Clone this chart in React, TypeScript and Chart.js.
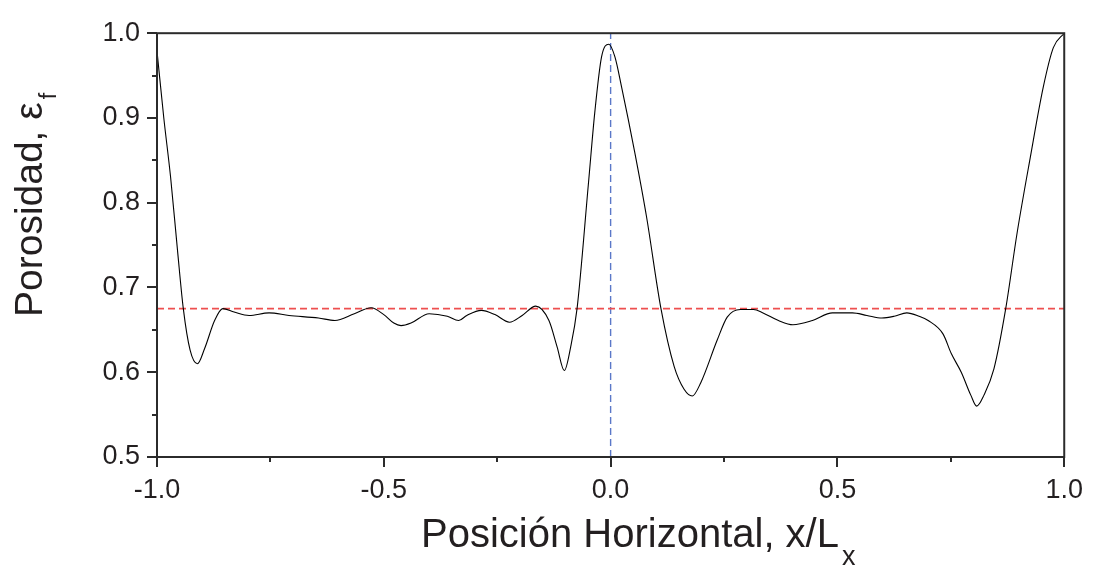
import React, { useEffect, useRef } from 'react';
import { Chart, registerables } from 'chart.js';

Chart.register(...registerables);

// Horizontal position x/Lx
const positionX = [
  -1.0, -0.985, -0.97, -0.955, -0.942, -0.927, -0.911, -0.895, -0.873, -0.855,
  -0.83, -0.797, -0.753, -0.709, -0.644, -0.608, -0.565, -0.528, -0.5, -0.478,
  -0.462, -0.44, -0.4, -0.36, -0.335, -0.317, -0.285, -0.255, -0.223, -0.195,
  -0.165, -0.136, -0.118, -0.102, -0.088, -0.074, -0.049, -0.035, -0.02, -0.004,
  0.0095, 0.024, 0.053, 0.079, 0.111, 0.14, 0.162, 0.18, 0.199, 0.235, 0.257,
  0.286, 0.315, 0.336, 0.37, 0.402, 0.445, 0.489, 0.533, 0.565, 0.598,
  0.625, 0.653, 0.68, 0.7, 0.733, 0.751, 0.773, 0.794, 0.807, 0.823,
  0.845, 0.871, 0.896, 0.925, 0.954, 0.976, 1.0,
];

// Porosity values
const porosity = [
  0.979, 0.9, 0.83, 0.745, 0.675, 0.626, 0.61, 0.628, 0.661, 0.675,
  0.671, 0.667, 0.67, 0.667, 0.664, 0.661, 0.669, 0.676, 0.668, 0.658,
  0.655, 0.658, 0.669, 0.666, 0.661, 0.667, 0.673, 0.668, 0.659, 0.667,
  0.678, 0.661, 0.63, 0.602, 0.63, 0.675, 0.822, 0.906, 0.972, 0.987,
  0.972, 0.937, 0.86, 0.784, 0.675, 0.607, 0.58, 0.572, 0.588, 0.638, 0.665,
  0.674, 0.674, 0.67, 0.661, 0.656, 0.661, 0.67, 0.67, 0.667, 0.664,
  0.666, 0.67, 0.666, 0.661, 0.645, 0.622, 0.6, 0.573, 0.56, 0.573,
  0.604, 0.675, 0.764, 0.853, 0.937, 0.983, 1.0,
];

// Reference lines
const meanPorosity = 0.675;
const centerPosition = 0.0;

// Axis ranges and labels
const xRange = [-1.0, 1.0];
const yRange = [0.5, 1.0];
const xTickLabels = ['-1.0', '-0.5', '0.0', '0.5', '1.0'];
const yTickLabels = ['0.5', '0.6', '0.7', '0.8', '0.9', '1.0'];

const xTitle = 'Posición Horizontal, x/L';
const xTitleSub = 'x';
const yTitle = 'Porosidad, ε';
const yTitleSub = 'f';

const FONT = '"Liberation Sans", Arial, Helvetica, sans-serif';
const TEXT = '#231f20';

function labelFor(value: number, labels: string[]) {
  const found = labels.find((l) => Math.abs(Number(l) - value) < 1e-6);
  return found ?? '';
}

const framePlugin = {
  id: 'originFrame',
  afterDraw(chart: any) {
    const { ctx, chartArea: a, scales } = chart;
    ctx.save();
    ctx.strokeStyle = '#2b2b2b';
    ctx.lineWidth = 2;
    ctx.strokeRect(a.left, a.top, a.right - a.left, a.bottom - a.top);

    ctx.lineWidth = 2;
    ctx.beginPath();
    scales.x.ticks.forEach((t: any) => {
      const px = Math.round(scales.x.getPixelForValue(t.value));
      const len = t.label ? 10 : 5;
      ctx.moveTo(px, a.bottom);
      ctx.lineTo(px, a.bottom + len);
    });
    scales.y.ticks.forEach((t: any) => {
      const py = Math.round(scales.y.getPixelForValue(t.value));
      const len = t.label ? 10 : 5;
      ctx.moveTo(a.left, py);
      ctx.lineTo(a.left - len, py);
    });
    ctx.stroke();

    // X title with subscript
    ctx.fillStyle = TEXT;
    ctx.textBaseline = 'alphabetic';
    ctx.textAlign = 'left';
    ctx.font = `40px ${FONT}`;
    const xw = ctx.measureText(xTitle).width;
    const xStart = a.left + 264;
    ctx.fillText(xTitle, xStart, 547);
    ctx.font = `27px ${FONT}`;
    ctx.fillText(xTitleSub, xStart + xw + 3, 565);

    // Y title with subscript (rotated)
    ctx.save();
    ctx.translate(42, 317);
    ctx.rotate(-Math.PI / 2);
    ctx.font = `39px ${FONT}`;
    const yw = ctx.measureText(yTitle).width;
    ctx.fillText(yTitle, 0, 0);
    ctx.font = `23px ${FONT}`;
    ctx.fillText(yTitleSub, yw + 3, 14);
    ctx.restore();

    ctx.restore();
  },
};

export default function App() {
  const canvasRef = useRef<HTMLCanvasElement | null>(null);

  useEffect(() => {
    const canvas = canvasRef.current;
    if (!canvas) return;
    const curve = positionX.map((x, i) => ({ x, y: porosity[i] }));
    const meanLine = xRange.map((x) => ({ x, y: meanPorosity }));
    const centerLine = yRange.map((y) => ({ x: centerPosition, y }));

    const chart = new Chart(canvas, {
      type: 'line',
      data: {
        datasets: [
          {
            data: curve,
            borderColor: '#000000',
            borderWidth: 1.1,
            pointRadius: 0,
            cubicInterpolationMode: 'monotone',
            fill: false,
          },
          {
            data: meanLine,
            borderColor: '#ee4f4f',
            borderWidth: 1.8,
            borderDash: [7, 4],
            pointRadius: 0,
            fill: false,
          },
          {
            data: centerLine,
            borderColor: '#5a78c8',
            borderWidth: 1.4,
            borderDash: [7, 4],
            pointRadius: 0,
            fill: false,
          },
        ],
      },
      plugins: [framePlugin],
      options: {
        animation: false,
        responsive: false,
        devicePixelRatio: 1,
        layout: { padding: { top: 21, right: 26, left: 0, bottom: 0 } },
        plugins: {
          legend: { display: false },
          tooltip: { enabled: false },
        },
        scales: {
          x: {
            type: 'linear',
            min: xRange[0],
            max: xRange[1],
            grid: { display: false, drawTicks: false },
            border: { display: false },
            ticks: {
              stepSize: 0.25,
              autoSkip: false,
              maxRotation: 0,
              padding: 17,
              color: TEXT,
              font: { family: FONT, size: 27 },
              callback: (v: any) => labelFor(Number(v), xTickLabels),
            },
            afterFit: (s: any) => {
              s.height = 112;
            },
          },
          y: {
            type: 'linear',
            min: yRange[0],
            max: yRange[1],
            grid: { display: false, drawTicks: false },
            border: { display: false },
            ticks: {
              stepSize: 0.05,
              autoSkip: false,
              padding: 17,
              color: TEXT,
              font: { family: FONT, size: 27 },
              callback: (v: any) => labelFor(Number(v), yTickLabels),
            },
            afterFit: (s: any) => {
              s.width = 157;
            },
          },
        },
      } as any,
    });
    return () => chart.destroy();
  }, []);

  return (
    <div style={{ position: 'fixed', left: 0, top: 0, width: 1100, height: 569, background: '#ffffff' }}>
      <canvas ref={canvasRef} width={1100} height={569} style={{ display: 'block', width: 1100, height: 569 }} />
    </div>
  );
}
